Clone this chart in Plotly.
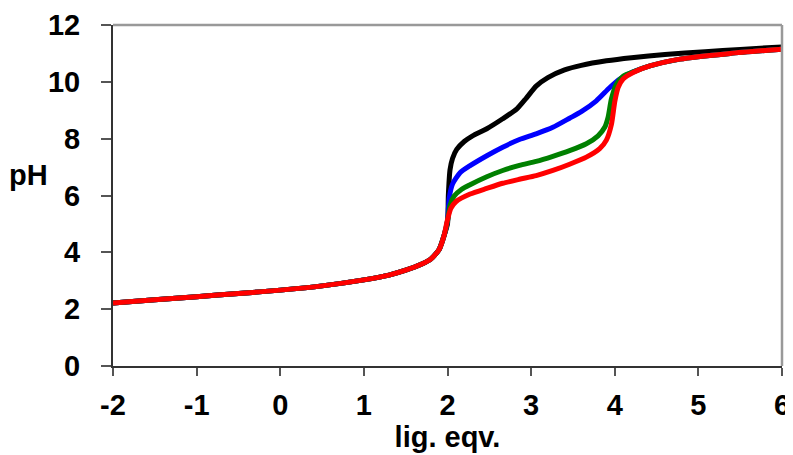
import plotly.graph_objects as go

# shared part of every curve (before 2 eqv.)
x_common = [-2, -1.5, -1, -0.5, 0, 0.5, 1.0, 1.3, 1.5, 1.7, 1.8, 1.9, 1.96]
ph_common = [2.22, 2.33, 2.44, 2.55, 2.67, 2.82, 3.03, 3.2, 3.37, 3.6, 3.76, 4.1, 4.6]

x_black = [2.0, 2.01, 2.03, 2.06, 2.11, 2.2, 2.3, 2.47, 2.66, 2.83, 2.94, 3.06, 3.2, 3.4, 3.6, 3.9, 4.2, 4.6, 5.08, 5.5, 6.0]
ph_black = [5.0, 6.0, 6.9, 7.3, 7.62, 7.9, 8.1, 8.35, 8.7, 9.05, 9.42, 9.85, 10.15, 10.42, 10.58, 10.74, 10.85, 10.96, 11.06, 11.14, 11.23]

x_blue = [2.0, 2.02, 2.06, 2.15, 2.27, 2.47, 2.66, 2.86, 3.06, 3.26, 3.46, 3.6, 3.78, 3.94, 4.06, 4.22, 4.42, 4.78, 5.38, 6.0]
ph_blue = [5.1, 5.9, 6.4, 6.8, 7.05, 7.4, 7.7, 7.97, 8.17, 8.4, 8.72, 8.95, 9.33, 9.8, 10.1, 10.35, 10.56, 10.8, 11.0, 11.15]

x_green = [2.0, 2.03, 2.08, 2.17, 2.27, 2.47, 2.66, 2.86, 3.06, 3.26, 3.46, 3.66, 3.8, 3.88, 3.92, 3.96, 4.02, 4.1, 4.22, 4.42, 4.78, 5.38, 6.0]
ph_green = [5.1, 5.65, 5.98, 6.22, 6.38, 6.66, 6.88, 7.06, 7.2, 7.38, 7.58, 7.82, 8.1, 8.4, 8.75, 9.4, 9.92, 10.2, 10.35, 10.56, 10.8, 11.0, 11.15]

x_red = [2.0, 2.04, 2.1, 2.27, 2.47, 2.66, 2.86, 3.06, 3.26, 3.46, 3.66, 3.82, 3.9, 3.96, 4.0, 4.04, 4.1, 4.22, 4.42, 4.78, 5.38, 6.0]
ph_red = [5.15, 5.55, 5.78, 6.05, 6.25, 6.43, 6.57, 6.7, 6.88, 7.1, 7.35, 7.65, 7.95, 8.5, 9.3, 9.8, 10.1, 10.33, 10.56, 10.8, 11.0, 11.15]

x_ticks = [-2, -1, 0, 1, 2, 3, 4, 5, 6]
y_ticks = [0, 2, 4, 6, 8, 10, 12]

series = [
    ("black", x_black, ph_black, "#000000"),
    ("blue", x_blue, ph_blue, "#0000FF"),
    ("green", x_green, ph_green, "#008000"),
    ("red", x_red, ph_red, "#FF0000"),
]

fig = go.Figure()
for name, xs, ys, col in series:
    fig.add_trace(go.Scatter(
        x=x_common + xs, y=ph_common + ys, mode="lines", name=name,
        line=dict(color=col, width=5, shape="spline", smoothing=0.6),
        showlegend=False, hoverinfo="skip"))

FAM = "Liberation Sans, Arial, sans-serif"
fs = 29

# the page body adds an 8px offset, so the figure is sized to fill the rest of the window
fig.update_layout(
    width=785, height=447,
    margin=dict(l=105, r=11, t=17, b=89),
    paper_bgcolor="white", plot_bgcolor="white",
    font=dict(family=FAM, size=fs, color="#000000"),
    xaxis=dict(range=[-2, 6], tickvals=x_ticks, ticktext=["<b>%d</b>" % v for v in x_ticks],
               automargin=False,
               showgrid=False, zeroline=False, showline=True, linecolor="#333333", linewidth=2,
               ticks="outside", ticklen=8, tickwidth=2, tickcolor="#555555",
               ticklabelstandoff=4,
               tickfont=dict(family=FAM, size=fs, color="#000000"),
               title=dict(text="<b>lig. eqv.</b>", standoff=6,
                          font=dict(family=FAM, size=fs))),
    yaxis=dict(range=[0, 12], tickvals=y_ticks, ticktext=["<b>%d</b>" % v for v in y_ticks],
               automargin=False,
               showgrid=False, zeroline=False, showline=True, linecolor="#333333", linewidth=2,
               ticks="outside", ticklen=10, tickwidth=2, tickcolor="#555555",
               ticklabelstandoff=15,
               tickfont=dict(family=FAM, size=fs, color="#000000")),
)

# grey frame on top and right
fig.add_shape(type="line", xref="paper", yref="paper", x0=0, x1=1, y0=1, y1=1,
              line=dict(color="#999999", width=2.5))
fig.add_shape(type="line", xref="paper", yref="paper", x0=1, x1=1, y0=0, y1=1,
              line=dict(color="#999999", width=2.5))

fig.add_annotation(text="<b>pH</b>", xref="paper", yref="paper", x=-0.094, y=0.56,
                   xanchor="right", yanchor="middle", showarrow=False,
                   font=dict(family=FAM, size=fs, color="#000000"))

fig.write_html("out.html")
